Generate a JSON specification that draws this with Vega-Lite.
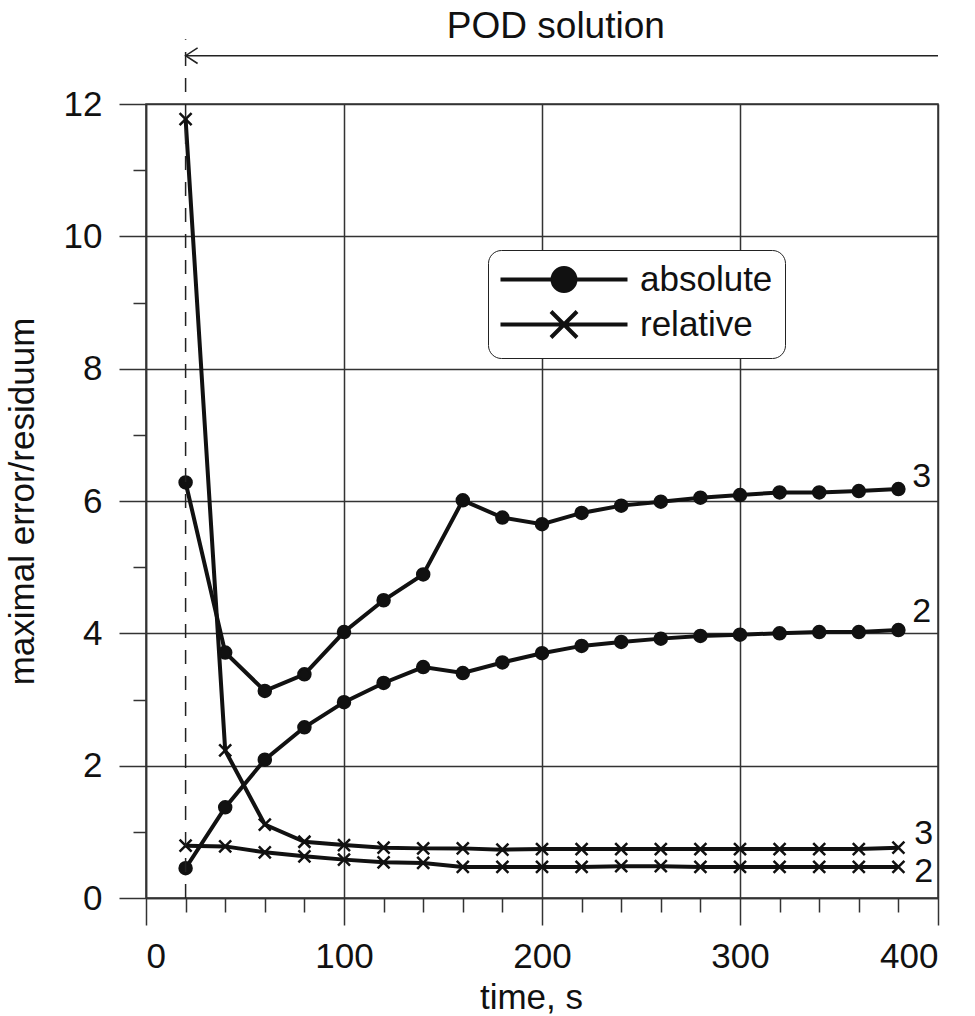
{
  "$schema": "https://vega.github.io/schema/vega-lite/v6.json",
  "width": 792,
  "height": 794,
  "autosize": {"type": "none"},
  "padding": {"left": 146, "top": 104, "right": 37, "bottom": 118},
  "background": "white",
  "config": {
    "font": "Liberation Sans",
    "view": {"stroke": "#333", "strokeWidth": 1.5},
    "axis": {
      "domainColor": "#333", "domainWidth": 1.5,
      "tickColor": "#333", "tickWidth": 1.5,
      "gridColor": "#333", "gridWidth": 1.5,
      "labelFont": "Liberation Sans", "labelFontSize": 35, "labelColor": "#111",
      "titleFont": "Liberation Sans", "titleFontSize": 35, "titleFontWeight": "normal", "titleColor": "#111"
    }
  },
  "resolve": {"axis": {"x": "independent"}, "scale": {"shape": "independent"}},
  "datasets": {
    "series": [
      {"t": 20, "v": 6.28, "type": "absolute", "n": "3"},
      {"t": 40, "v": 3.71, "type": "absolute", "n": "3"},
      {"t": 60, "v": 3.13, "type": "absolute", "n": "3"},
      {"t": 80, "v": 3.38, "type": "absolute", "n": "3"},
      {"t": 100, "v": 4.02, "type": "absolute", "n": "3"},
      {"t": 120, "v": 4.5, "type": "absolute", "n": "3"},
      {"t": 140, "v": 4.89, "type": "absolute", "n": "3"},
      {"t": 160, "v": 6.01, "type": "absolute", "n": "3"},
      {"t": 180, "v": 5.75, "type": "absolute", "n": "3"},
      {"t": 200, "v": 5.65, "type": "absolute", "n": "3"},
      {"t": 220, "v": 5.82, "type": "absolute", "n": "3"},
      {"t": 240, "v": 5.93, "type": "absolute", "n": "3"},
      {"t": 260, "v": 5.99, "type": "absolute", "n": "3"},
      {"t": 280, "v": 6.05, "type": "absolute", "n": "3"},
      {"t": 300, "v": 6.09, "type": "absolute", "n": "3"},
      {"t": 320, "v": 6.13, "type": "absolute", "n": "3"},
      {"t": 340, "v": 6.13, "type": "absolute", "n": "3"},
      {"t": 360, "v": 6.15, "type": "absolute", "n": "3"},
      {"t": 380, "v": 6.18, "type": "absolute", "n": "3"},
      {"t": 20, "v": 0.45, "type": "absolute", "n": "2"},
      {"t": 40, "v": 1.37, "type": "absolute", "n": "2"},
      {"t": 60, "v": 2.09, "type": "absolute", "n": "2"},
      {"t": 80, "v": 2.58, "type": "absolute", "n": "2"},
      {"t": 100, "v": 2.96, "type": "absolute", "n": "2"},
      {"t": 120, "v": 3.25, "type": "absolute", "n": "2"},
      {"t": 140, "v": 3.49, "type": "absolute", "n": "2"},
      {"t": 160, "v": 3.4, "type": "absolute", "n": "2"},
      {"t": 180, "v": 3.56, "type": "absolute", "n": "2"},
      {"t": 200, "v": 3.7, "type": "absolute", "n": "2"},
      {"t": 220, "v": 3.81, "type": "absolute", "n": "2"},
      {"t": 240, "v": 3.87, "type": "absolute", "n": "2"},
      {"t": 260, "v": 3.92, "type": "absolute", "n": "2"},
      {"t": 280, "v": 3.96, "type": "absolute", "n": "2"},
      {"t": 300, "v": 3.98, "type": "absolute", "n": "2"},
      {"t": 320, "v": 4.0, "type": "absolute", "n": "2"},
      {"t": 340, "v": 4.02, "type": "absolute", "n": "2"},
      {"t": 360, "v": 4.02, "type": "absolute", "n": "2"},
      {"t": 380, "v": 4.05, "type": "absolute", "n": "2"},
      {"t": 20, "v": 11.77, "type": "relative", "n": "3"},
      {"t": 40, "v": 2.23, "type": "relative", "n": "3"},
      {"t": 60, "v": 1.11, "type": "relative", "n": "3"},
      {"t": 80, "v": 0.85, "type": "relative", "n": "3"},
      {"t": 100, "v": 0.8, "type": "relative", "n": "3"},
      {"t": 120, "v": 0.76, "type": "relative", "n": "3"},
      {"t": 140, "v": 0.75, "type": "relative", "n": "3"},
      {"t": 160, "v": 0.75, "type": "relative", "n": "3"},
      {"t": 180, "v": 0.73, "type": "relative", "n": "3"},
      {"t": 200, "v": 0.74, "type": "relative", "n": "3"},
      {"t": 220, "v": 0.74, "type": "relative", "n": "3"},
      {"t": 240, "v": 0.74, "type": "relative", "n": "3"},
      {"t": 260, "v": 0.74, "type": "relative", "n": "3"},
      {"t": 280, "v": 0.74, "type": "relative", "n": "3"},
      {"t": 300, "v": 0.74, "type": "relative", "n": "3"},
      {"t": 320, "v": 0.74, "type": "relative", "n": "3"},
      {"t": 340, "v": 0.74, "type": "relative", "n": "3"},
      {"t": 360, "v": 0.74, "type": "relative", "n": "3"},
      {"t": 380, "v": 0.76, "type": "relative", "n": "3"},
      {"t": 20, "v": 0.79, "type": "relative", "n": "2"},
      {"t": 40, "v": 0.78, "type": "relative", "n": "2"},
      {"t": 60, "v": 0.69, "type": "relative", "n": "2"},
      {"t": 80, "v": 0.63, "type": "relative", "n": "2"},
      {"t": 100, "v": 0.58, "type": "relative", "n": "2"},
      {"t": 120, "v": 0.54, "type": "relative", "n": "2"},
      {"t": 140, "v": 0.53, "type": "relative", "n": "2"},
      {"t": 160, "v": 0.47, "type": "relative", "n": "2"},
      {"t": 180, "v": 0.47, "type": "relative", "n": "2"},
      {"t": 200, "v": 0.47, "type": "relative", "n": "2"},
      {"t": 220, "v": 0.47, "type": "relative", "n": "2"},
      {"t": 240, "v": 0.48, "type": "relative", "n": "2"},
      {"t": 260, "v": 0.48, "type": "relative", "n": "2"},
      {"t": 280, "v": 0.47, "type": "relative", "n": "2"},
      {"t": 300, "v": 0.47, "type": "relative", "n": "2"},
      {"t": 320, "v": 0.47, "type": "relative", "n": "2"},
      {"t": 340, "v": 0.47, "type": "relative", "n": "2"},
      {"t": 360, "v": 0.47, "type": "relative", "n": "2"},
      {"t": 380, "v": 0.47, "type": "relative", "n": "2"}
    ],
    "labels": [
      {"t": 387, "v": 6.36, "label": "3"},
      {"t": 387, "v": 4.32, "label": "2"},
      {"t": 388, "v": 0.97, "label": "3"},
      {"t": 388, "v": 0.39, "label": "2"}
    ],
    "pod": [
      {"t": 20, "t2": 400, "v": 12.73, "bottom": 0, "top": 12.98, "text": "POD solution", "tx": 207, "ty": 13.0}
    ],
    "none": []
  },
  "layer": [
    {
      "data": {"name": "series"},
      "mark": {"type": "line", "color": "#111", "strokeWidth": 4},
      "encoding": {
        "x": {"field": "t", "type": "quantitative", "scale": {"domain": [0, 400], "nice": false},
          "axis": {
            "orient": "bottom",
            "values": [0, 100, 200, 300, 400],
            "format": "d",
            "tickSize": 27,
            "grid": true,
            "labelPadding": 14,
            "title": "time, s",
            "titleX": 385,
            "titlePadding": 6
          }},
        "y": {"field": "v", "type": "quantitative", "scale": {"domain": [0, 12], "nice": false},
          "axis": {
            "values": [0,1,2,3,4,5,6,7,8,9,10,11,12],
            "format": "d",
            "labelOverlap": false,
            "labelExpr": "datum.value % 2 === 0 ? datum.label : ''",
            "tickSize": {"condition": {"test": "datum.value % 2 === 0", "value": 27}, "value": 13},
            "gridOpacity": {"condition": {"test": "datum.value % 2 === 0", "value": 1}, "value": 0},
            "grid": true,
            "labelPadding": 17,
            "title": "maximal error/residuum",
            "titlePadding": 23
          }},
        "detail": [{"field": "type"}, {"field": "n"}]
      }
    },
    {
      "data": {"name": "series"},
      "mark": {"type": "point", "filled": true, "fill": "#111", "stroke": "#111", "strokeWidth": 2.5, "size": 144, "opacity": 1},
      "encoding": {
        "x": {"field": "t", "type": "quantitative",
          "axis": {
            "orient": "bottom",
            "values": [20,40,60,80,120,140,160,180,220,240,260,280,320,340,360,380],
            "tickSize": 14,
            "labels": false,
            "domain": false,
            "grid": false,
            "title": null
          }},
        "y": {"field": "v", "type": "quantitative"},
        "shape": {
          "field": "type", "type": "nominal",
          "scale": {"domain": ["absolute", "relative"], "range": ["circle", "M-1,-1L1,1M-1,1L1,-1"]},
          "legend": null
        }
      }
    },
    {
      "data": {"name": "pod"},
      "mark": {"type": "rule", "strokeDash": [14, 12], "strokeWidth": 1.5, "color": "#222"},
      "encoding": {
        "x": {"field": "t", "type": "quantitative", "axis": null},
        "y": {"field": "bottom", "type": "quantitative"},
        "y2": {"field": "top"}
      }
    },
    {
      "data": {"name": "pod"},
      "mark": {"type": "rule", "strokeWidth": 1.5, "color": "#222"},
      "encoding": {
        "x": {"field": "t", "type": "quantitative", "axis": null},
        "x2": {"field": "t2"},
        "y": {"field": "v", "type": "quantitative"}
      }
    },
    {
      "data": {"name": "pod"},
      "mark": {"type": "point", "shape": "M2,-1.3L0,0L2,1.3", "size": 144, "filled": false, "stroke": "#222", "strokeWidth": 1.5, "opacity": 1},
      "encoding": {
        "x": {"field": "t", "type": "quantitative", "axis": null},
        "y": {"field": "v", "type": "quantitative"}
      }
    },
    {
      "data": {"name": "pod"},
      "mark": {"type": "text", "fontSize": 37, "font": "Liberation Sans", "color": "#111", "align": "center", "baseline": "alphabetic"},
      "encoding": {
        "x": {"field": "tx", "type": "quantitative", "axis": null},
        "y": {"field": "ty", "type": "quantitative"},
        "text": {"field": "text"}
      }
    },
    {
      "data": {"name": "labels"},
      "mark": {"type": "text", "fontSize": 34, "font": "Liberation Sans", "color": "#111", "align": "left", "baseline": "middle"},
      "encoding": {
        "x": {"field": "t", "type": "quantitative", "axis": null},
        "y": {"field": "v", "type": "quantitative"},
        "text": {"field": "label"}
      }
    },
    {
      "data": {"name": "none"},
      "mark": {"type": "point", "filled": false, "color": "#111", "strokeWidth": 4, "opacity": 1},
      "encoding": {
        "x": {"field": "t", "type": "quantitative", "axis": null},
        "y": {"field": "v", "type": "quantitative"},
        "shape": {
          "field": "type", "type": "nominal",
          "scale": {"domain": ["absolute", "relative"], "range": [
            "M-4.536,0H4.536M0.82,0A0.82,0.82,0,1,0,-0.82,0A0.82,0.82,0,1,0,0.82,0M0.66,0A0.66,0.66,0,1,0,-0.66,0A0.66,0.66,0,1,0,0.66,0M0.5,0A0.5,0.5,0,1,0,-0.5,0A0.5,0.5,0,1,0,0.5,0M0.34,0A0.34,0.34,0,1,0,-0.34,0A0.34,0.34,0,1,0,0.34,0M0.18,0A0.18,0.18,0,1,0,-0.18,0A0.18,0.18,0,1,0,0.18,0M0.06,0A0.06,0.06,0,1,0,-0.06,0A0.06,0.06,0,1,0,0.06,0",
            "M-4.536,0H4.536M-0.93,-0.93L0.93,0.93M-0.93,0.93L0.93,-0.93"
          ]},
          "legend": {
            "title": null,
            "orient": "none",
            "legendX": 342,
            "legendY": 146,
            "direction": "vertical",
            "cornerRadius": 13,
            "strokeColor": "#222",
            "fillColor": "white",
            "padding": 12,
            "symbolSize": 784,
            "symbolOffset": 46.5,
            "symbolStrokeWidth": 4,
            "symbolStrokeColor": "#111",
            "labelFont": "Liberation Sans",
            "labelFontSize": 35,
            "labelColor": "#111",
            "labelOffset": 58.5,
            "rowPadding": 4
          }
        }
      }
    }
  ]
}
